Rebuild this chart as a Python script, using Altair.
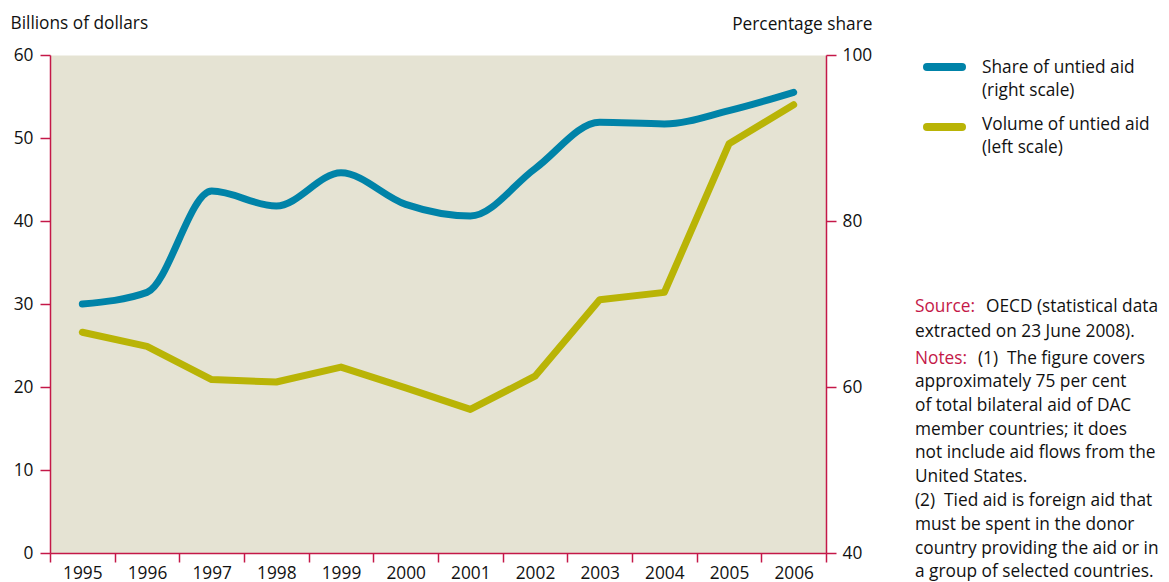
import altair as alt
import pandas as pd

years = [str(y) for y in range(1995, 2007)]
share_untied = [70.0, 71.4, 83.6, 81.8, 85.8, 82.0, 80.6, 86.3, 91.9, 91.7, 93.3, 95.5]
volume_untied = [26.6, 24.9, 20.9, 20.6, 22.4, 19.9, 17.3, 21.3, 30.5, 31.4, 49.3, 54.0]
left_ticks = [0, 10, 20, 30, 40, 50, 60]
right_ticks = [40, 60, 80, 100]

legend_share = ["Share of untied aid", "(right scale)"]
legend_volume = ["Volume of untied aid", "(left scale)"]
note_lines = [
    "approximately 75 per cent",
    "of total bilateral aid of DAC",
    "member countries; it does",
    "not include aid flows from the",
    "United States.",
    "(2)\u00a0\u00a0Tied aid is foreign aid that",
    "must be spent in the donor",
    "country providing the aid or in",
    "a group of selected countries.",
]

BLUE = "#0083A8"
YELLOW = "#B9B406"
CRIMSON = "#C41848"
TEXT = "#111111"
FONT = "Open Sans"
FS = 17.3

df = pd.DataFrame({"year": years, "share": share_untied, "volume": volume_untied})
one = pd.DataFrame({"k": [0]})

x_enc = alt.X(
    "year:O",
    bandPosition=0.5,
    scale=alt.Scale(type="band", paddingInner=0, paddingOuter=0),
    axis=alt.Axis(title=None, labelAngle=0, tickBand="extent", tickSize=9,
                  labelPadding=2, labelBaseline="top"),
)

vol = alt.Chart(df).mark_line(
    color=YELLOW, strokeWidth=7, strokeCap="round", strokeJoin="round"
).encode(
    x=x_enc,
    y=alt.Y("volume:Q",
            scale=alt.Scale(domain=[0, 60], nice=False, zero=False),
            axis=alt.Axis(orient="left", values=left_ticks, tickSize=10, labelPadding=7,
                          title="Billions of dollars", titleAngle=0, titleAlign="left",
                          titleBaseline="alphabetic", titleX=-40, titleY=-27,
                          titleFont=FONT, titleFontSize=FS, titleFontWeight="normal",
                          titleColor=TEXT)),
)

shr = alt.Chart(df).mark_line(
    color=BLUE, strokeWidth=7, strokeCap="round", strokeJoin="round",
    interpolate="monotone"
).encode(
    x=x_enc,
    y=alt.Y("share:Q",
            scale=alt.Scale(domain=[40, 100], nice=False, zero=False),
            axis=alt.Axis(orient="right", values=right_ticks, tickSize=10, labelPadding=6,
                          title="Percentage share", titleAngle=0, titleAlign="right",
                          titleBaseline="alphabetic", titleX=46, titleY=-26,
                          titleFont=FONT, titleFontSize=FS, titleFontWeight="normal",
                          titleColor=TEXT)),
)

def swatch(color, yv):
    return alt.Chart(one).mark_rule(color=color, strokeWidth=8, strokeCap="round").encode(
        x=alt.value(877), x2=alt.value(912), y=alt.value(yv))

def txt(content, xv, yv, color=TEXT, lh=22.5):
    return alt.Chart(one).mark_text(
        text=content, align="left", baseline="alphabetic", font=FONT, fontSize=FS,
        color=color, lineHeight=lh
    ).encode(x=alt.value(xv), y=alt.value(yv))

layers = [
    vol, shr,
    swatch(BLUE, 12), swatch(YELLOW, 72),
    txt(legend_share, 932, 18),
    txt(legend_volume, 932, 75),
    txt("Source:", 865, 257, CRIMSON),
    txt("OECD (statistical data", 936, 257),
    txt("extracted on 23 June 2008).", 865, 282),
    txt("Notes:", 865, 309, CRIMSON),
    txt("(1)\u00a0\u00a0The figure covers", 928, 309),
    txt(note_lines, 865, 332, TEXT, 23.8),
]

chart = alt.layer(*layers).resolve_scale(y="independent").properties(
    width=776, height=498,
    autosize=alt.AutoSizeParams(type="none"),
    padding={"left": 42, "top": 47, "right": 335, "bottom": 29},
).configure_view(
    fill="#E5E3D3", strokeOpacity=0
).configure_axis(
    domainColor=CRIMSON, tickColor=CRIMSON, domainWidth=1.5, tickWidth=1.5,
    labelFont=FONT, labelFontSize=FS, labelColor=TEXT, grid=False,
)

chart.save("out.html", embed_options={"renderer": "svg", "actions": False})
